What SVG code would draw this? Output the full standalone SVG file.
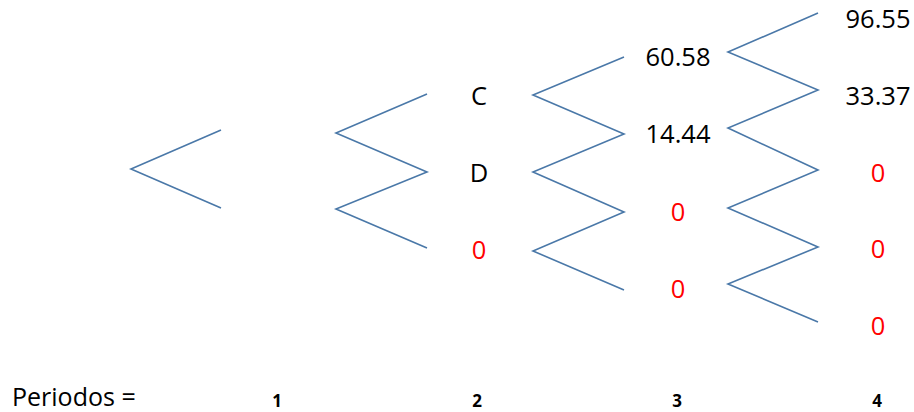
<svg xmlns="http://www.w3.org/2000/svg" width="914" height="412" viewBox="0 0 914 412">
<style>
.ln{fill:none;stroke:#4a78a8;stroke-width:1.6;stroke-linejoin:miter}
.t{font-family:"Open Sans","Liberation Sans",sans-serif;font-size:25.5px;text-anchor:middle;fill:#000}
.r{fill:#ff0000}
.p{font-family:"Open Sans","Liberation Sans",sans-serif;font-size:25px;fill:#000}
.n{font-family:"Open Sans","Liberation Sans",sans-serif;font-size:17px;font-weight:bold;text-anchor:middle;fill:#000}
</style>
<rect width="914" height="412" fill="#fff"/>
<g id="connectors">
<polyline class="ln" points="221,130 131,169 221,208"/>
<polyline class="ln" points="427,94 336,133 427,172 336,209 427,248"/>
<polyline class="ln" points="624,57 533,95 624,134 533,172 624,212 533,251 624,290"/>
<polyline class="ln" points="818,13 728,52 818,90 728,128 818,170 728,208 818,247 728,284 818,322"/>
</g>
<g id="n2a"><text class="t" x="479" y="105">C</text></g>
<g id="n2b"><text class="t" x="479" y="182">D</text></g>
<g id="n2c"><text class="t r" x="479" y="259">0</text></g>
<g id="n3a"><text class="t" x="678" y="66">60.58</text></g>
<g id="n3b"><text class="t" x="678" y="143">14.44</text></g>
<g id="n3c"><text class="t r" x="678" y="221">0</text></g>
<g id="n3d"><text class="t r" x="678" y="298">0</text></g>
<g id="n4a"><text class="t" x="878" y="28">96.55</text></g>
<g id="n4b"><text class="t" x="878" y="105">33.37</text></g>
<g id="n4c"><text class="t r" x="878" y="182">0</text></g>
<g id="n4d"><text class="t r" x="878" y="258">0</text></g>
<g id="n4e"><text class="t r" x="878" y="335">0</text></g>
<g id="periods">
<text class="p" x="12" y="406">Periodos =</text>
<text class="n" x="277" y="407">1</text>
<text class="n" x="477" y="407">2</text>
<text class="n" x="677" y="407">3</text>
<text class="n" x="877" y="407">4</text>
</g>
</svg>
